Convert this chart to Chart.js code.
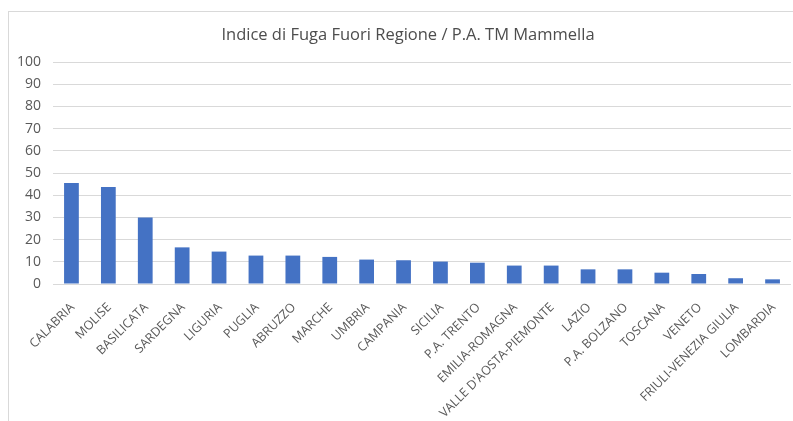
<!DOCTYPE html>
<html>
<head>
<meta charset="utf-8">
<script src="https://cdn.jsdelivr.net/npm/chart.js@4/dist/chart.umd.min.js"></script>
<style>
  html, body { margin: 0; padding: 0; background: #fff; overflow: hidden; width: 793px; height: 421px; }
  #frame { position: absolute; left: 8px; top: 11px; width: 820px; height: 440px; border: 1px solid #d9d9d9; }
  #chart { position: absolute; left: 0; top: 0; }
</style>
</head>
<body>
<div id="frame"></div>
<canvas id="chart" width="793" height="421"></canvas>
<script>
// --- data ---
const regions = ['CALABRIA', 'MOLISE', 'BASILICATA', 'SARDEGNA', 'LIGURIA', 'PUGLIA', 'ABRUZZO',
  'MARCHE', 'UMBRIA', 'CAMPANIA', 'SICILIA', 'P.A. TRENTO', 'EMILIA-ROMAGNA',
  "VALLE D'AOSTA-PIEMONTE", 'LAZIO', 'P.A. BOLZANO', 'TOSCANA', 'VENETO',
  'FRIULI-VENEZIA GIULIA', 'LOMBARDIA'];
const fugaValues = [45.5, 43.7, 30.0, 16.5, 14.6, 12.8, 12.8, 12.2, 11.0, 10.7,
  10.1, 9.6, 8.3, 8.3, 6.6, 6.6, 5.1, 4.5, 2.6, 2.1];
const yTicks = [0, 10, 20, 30, 40, 50, 60, 70, 80, 90, 100];

const chartTitle = 'Indice di Fuga Fuori Regione / P.A. TM Mammella';
const textGrey = '#595959';

// the original chart box is wider than the crop, so its title sits a bit right of centre
const offsetTitle = {
  id: 'offsetTitle',
  afterDraw(chart) {
    const c = chart.ctx;
    c.save();
    c.fillStyle = '#4d4d4d';
    c.font = '16.5px "Open Sans"';
    c.textAlign = 'center';
    c.textBaseline = 'middle';
    c.fillText(chartTitle, 408, 35);
    c.restore();
  }
};

new Chart(document.getElementById('chart'), {
  type: 'bar',
  data: {
    labels: regions,
    datasets: [{
      data: fugaValues,
      backgroundColor: '#4472c4',
      categoryPercentage: 1,
      barPercentage: 0.4
    }]
  },
  options: {
    responsive: false,
    animation: false,
    layout: { padding: { left: 0, right: 2, top: 62, bottom: 0 } },
    plugins: {
      legend: { display: false },
      tooltip: { enabled: false },
      title: { display: false }
    },
    scales: {
      y: {
        min: 0, max: 100,
        afterFit: s => { s.width = 53; },
        afterBuildTicks: s => { s.ticks = yTicks.map(v => ({ value: v })); },
        grid: { color: '#d9d9d9', drawTicks: false },
        border: { display: false },
        ticks: { color: textGrey, padding: 12, font: { family: 'Open Sans', size: 14 } }
      },
      x: {
        afterFit: s => { s.height = 137; },
        grid: { display: false },
        border: { display: false },
        ticks: {
          color: textGrey,
          autoSkip: false,
          minRotation: 45, maxRotation: 45,
          padding: 8,
          labelOffset: 1,
          font: { family: 'Open Sans', size: 12.5 }
        }
      }
    }
  },
  plugins: [offsetTitle]
});
</script>
</body>
</html>
